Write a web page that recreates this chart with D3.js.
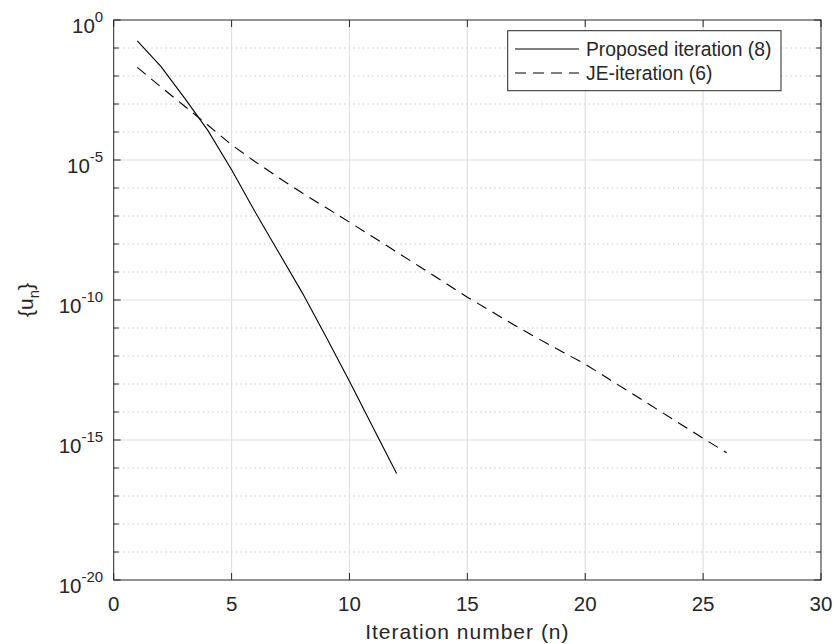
<!DOCTYPE html>
<html>
<head>
<meta charset="utf-8">
<script src="https://cdn.jsdelivr.net/npm/d3@7"></script>
<style>
  body { margin: 0; background: #fff; }
  text { font-family: "Liberation Sans", Arial, sans-serif; fill: #262626; }
</style>
</head>
<body>
<div id="wrapper"></div>
<script>
// values (u_n per iteration)
const proposedN = [1, 2, 3, 4, 5, 6, 7, 8, 9, 10, 11, 12]
const proposedU = [1.8e-1, 2.2e-2, 1.66e-3, 1.12e-4, 4.5e-6, 1.4e-7, 5.0e-9, 1.8e-10, 5.0e-12, 1.26e-13, 2.8e-15, 6.3e-17]

const jeN = d3.range(1, 27)
const jeU = [2.04e-2, 4.07e-3, 8.5e-4, 1.74e-4, 3.47e-5, 8.7e-6, 2.34e-6, 6.6e-7, 2.0e-7, 6.0e-8,
             1.78e-8, 5.2e-9, 1.51e-9, 4.4e-10, 1.26e-10, 4.0e-11, 1.26e-11, 4.2e-12, 1.45e-12, 5.1e-13,
             1.51e-13, 4.5e-14, 1.32e-14, 3.9e-15, 1.15e-15, 3.5e-16]

const xTicks = [0, 5, 10, 15, 20, 25, 30]
const yTickExps = [0, -5, -10, -15, -20]
const legendLabels = ["Proposed iteration (8)", "JE-iteration (6)"]

const width = 834
const height = 644
const margin = { top: 20, right: 13, bottom: 64, left: 113.7 }
const x0 = margin.left, x1 = width - margin.right
const y0 = margin.top, y1 = height - margin.bottom

const svg = d3.select("#wrapper").append("svg")
    .attr("width", width)
    .attr("height", height)

const xScale = d3.scaleLinear().domain([0, 30]).range([x0, x1])
const yScale = d3.scaleLog().domain([1e-20, 1]).range([y1, y0])

const decades = d3.range(-20, 1)
const axisColor = "#262626"

// grid
const grid = svg.append("g")
grid.selectAll(".minor")
    .data(decades.filter(e => e % 5 !== 0))
    .join("line")
    .attr("x1", x0).attr("x2", x1)
    .attr("y1", e => yScale(Math.pow(10, e))).attr("y2", e => yScale(Math.pow(10, e)))
    .attr("stroke", "#c4c4c4")
    .attr("stroke-width", 1)
    .attr("stroke-dasharray", "1.3,3.4")
grid.selectAll(".hmajor")
    .data(yTickExps.filter(e => e !== 0 && e !== -20))
    .join("line")
    .attr("x1", x0).attr("x2", x1)
    .attr("y1", e => yScale(Math.pow(10, e))).attr("y2", e => yScale(Math.pow(10, e)))
    .attr("stroke", "#e0e0e0")
    .attr("stroke-width", 1.2)
grid.selectAll(".vmajor")
    .data(xTicks.filter(t => t !== 0 && t !== 30))
    .join("line")
    .attr("x1", t => xScale(t)).attr("x2", t => xScale(t))
    .attr("y1", y0).attr("y2", y1)
    .attr("stroke", "#e0e0e0")
    .attr("stroke-width", 1.2)

// data lines
const line = d3.line()
    .x(d => xScale(d[0]))
    .y(d => yScale(d[1]))

svg.append("path")
    .datum(proposedN.map((n, i) => [n, proposedU[i]]))
    .attr("d", line)
    .attr("fill", "none")
    .attr("stroke", "#000")
    .attr("stroke-width", 1.1)

svg.append("path")
    .datum(jeN.map((n, i) => [n, jeU[i]]))
    .attr("d", line)
    .attr("fill", "none")
    .attr("stroke", "#000")
    .attr("stroke-width", 1.1)
    .attr("stroke-dasharray", "11,7")

// box and ticks
const axes = svg.append("g").attr("stroke", axisColor).attr("stroke-width", 1)
axes.append("rect")
    .attr("x", x0).attr("y", y0)
    .attr("width", x1 - x0).attr("height", y1 - y0)
    .attr("fill", "none")

xTicks.forEach(t => {
    const x = xScale(t)
    axes.append("line").attr("x1", x).attr("x2", x).attr("y1", y1).attr("y2", y1 - 7)
    axes.append("line").attr("x1", x).attr("x2", x).attr("y1", y0).attr("y2", y0 + 7)
})
decades.forEach(e => {
    const y = yScale(Math.pow(10, e))
    const len = e % 5 === 0 ? 7 : 5
    axes.append("line").attr("x1", x0).attr("x2", x0 + len).attr("y1", y).attr("y2", y)
    axes.append("line").attr("x1", x1).attr("x2", x1 - len).attr("y1", y).attr("y2", y)
})

// tick labels
svg.append("g").selectAll("text")
    .data(xTicks)
    .join("text")
    .attr("x", t => xScale(t))
    .attr("y", y1 + 31)
    .attr("text-anchor", "middle")
    .style("font-size", "20.5px")
    .text(t => t)

const yLabels = svg.append("g").selectAll("text")
    .data(yTickExps)
    .join("text")
    .attr("x", x0 - 10.5)
    .attr("y", e => yScale(Math.pow(10, e)) + 12.5)
    .attr("text-anchor", "end")
    .style("font-size", "20.5px")
yLabels.append("tspan").text("10")
yLabels.append("tspan")
    .attr("dy", -10.5)
    .style("font-size", "15px")
    .text(e => e)

// axis labels
svg.append("text")
    .attr("x", (x0 + x1) / 2)
    .attr("y", height - 5)
    .attr("text-anchor", "middle")
    .style("font-size", "21px")
    .style("letter-spacing", "1px")
    .text("Iteration number (n)")

const yLab = svg.append("text")
    .attr("transform", `translate(33, ${(y0 + y1) / 2}) rotate(-90)`)
    .attr("text-anchor", "middle")
    .style("font-size", "21px")
yLab.append("tspan").text("{u")
yLab.append("tspan").attr("dy", 6).style("font-size", "15px").text("n")
yLab.append("tspan").attr("dy", -6).text("}")

// legend
const legend = svg.append("g")
legend.append("rect")
    .attr("x", 507.7).attr("y", 30.7)
    .attr("width", 273.3).attr("height", 60)
    .attr("fill", "#fff")
    .attr("stroke", axisColor)
    .attr("stroke-width", 1)

const legendDash = [null, "11,7"]
legendLabels.forEach((label, i) => {
    const y = 49 + i * 24
    legend.append("line")
        .attr("x1", 515).attr("x2", 579)
        .attr("y1", y).attr("y2", y)
        .attr("stroke", "#000")
        .attr("stroke-width", 1.1)
        .attr("stroke-dasharray", legendDash[i])
    legend.append("text")
        .attr("x", 586)
        .attr("y", y + 7)
        .style("font-size", "19.3px")
        .text(label)
})
</script>
</body>
</html>
